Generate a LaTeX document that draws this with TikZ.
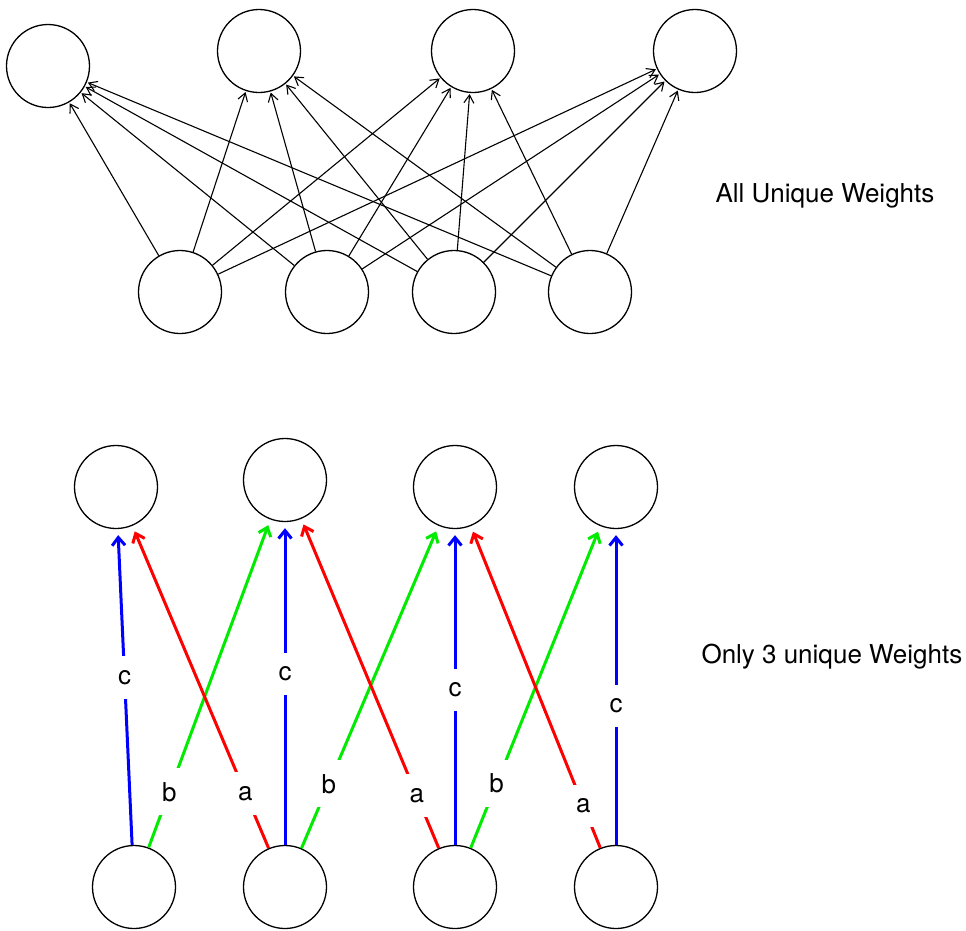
\documentclass[tikz,border=0pt]{standalone}
\usepackage{fontspec}
\setmainfont{TeX Gyre Heros}
\usetikzlibrary{arrows.meta}
\definecolor{wred}{RGB}{255,0,0}
\definecolor{wgreen}{RGB}{0,235,0}
\definecolor{wblue}{RGB}{0,0,255}

\begin{document}
\begin{tikzpicture}[x=1pt, y=-1pt,
    neuron/.style={circle, draw, line width=1.3pt, minimum size=83pt, inner sep=0pt},
    dense/.style={line width=1.1pt, -{Straight Barb[length=8pt,width=10pt]}, shorten >=1pt},
    shared/.style={line width=3pt, -{Straight Barb[length=8pt,width=13pt]}, shorten >=6pt},
    wlabel/.style={fill=white, inner sep=14pt, text=black, font=\fontsize{26}{31}\selectfont},
    caption/.style={anchor=base west, font=\fontsize{26}{31}\selectfont}]
  \useasboundingbox (0,0) rectangle (966,930);

  % all unique weights
  \node[neuron] (t1) at (48,66) {};
  \node[neuron] (t2) at (259,51) {};
  \node[neuron] (t3) at (473,51) {};
  \node[neuron] (t4) at (695,51) {};
  \node[neuron] (b1) at (180,292) {};
  \node[neuron] (b2) at (327,292) {};
  \node[neuron] (b3) at (454,292) {};
  \node[neuron] (b4) at (590,292) {};
  \foreach \i in {1,...,4}
    \foreach \j in {1,...,4}
      \draw[dense] (b\i) -- (t\j);
  \node[caption] (allunique) at (712,202) {All Unique Weights};

  % only 3 shared weights
  \node[neuron] (u1) at (116,487) {};
  \node[neuron] (u2) at (285,480) {};
  \node[neuron] (u3) at (455,487) {};
  \node[neuron] (u4) at (616,487) {};
  \node[neuron] (l1) at (134,887) {};
  \node[neuron] (l2) at (285,887) {};
  \node[neuron] (l3) at (455,887) {};
  \node[neuron] (l4) at (616,887) {};
  \draw[shared, wblue] (l1) -- node[wlabel, pos=0.53] (c1) {c} (u1);
  \draw[shared, wblue] (l2) -- node[wlabel, pos=0.53] (c2) {c} (u2);
  \draw[shared, wblue] (l3) -- node[wlabel, pos=0.49] (c3) {c} (u3);
  \draw[shared, wblue] (l4) -- node[wlabel, pos=0.44] (c4) {c} (u4);
  \draw[shared, wgreen] (l1) -- node[wlabel, pos=0.17] (bb1) {b} (u2);
  \draw[shared, wgreen] (l2) -- node[wlabel, pos=0.2] (bb2) {b} (u3);
  \draw[shared, wgreen] (l3) -- node[wlabel, pos=0.2] (bb3) {b} (u4);
  \draw[shared, wred] (l2) -- node[wlabel, pos=0.17] (a1) {a} (u1);
  \draw[shared, wred] (l3) -- node[wlabel, pos=0.16] (a2) {a} (u2);
  \draw[shared, wred] (l4) -- node[wlabel, pos=0.13] (a3) {a} (u3);
  \node[caption] (onlythree) at (698,663) {Only 3 unique Weights};
\end{tikzpicture}
\end{document}
